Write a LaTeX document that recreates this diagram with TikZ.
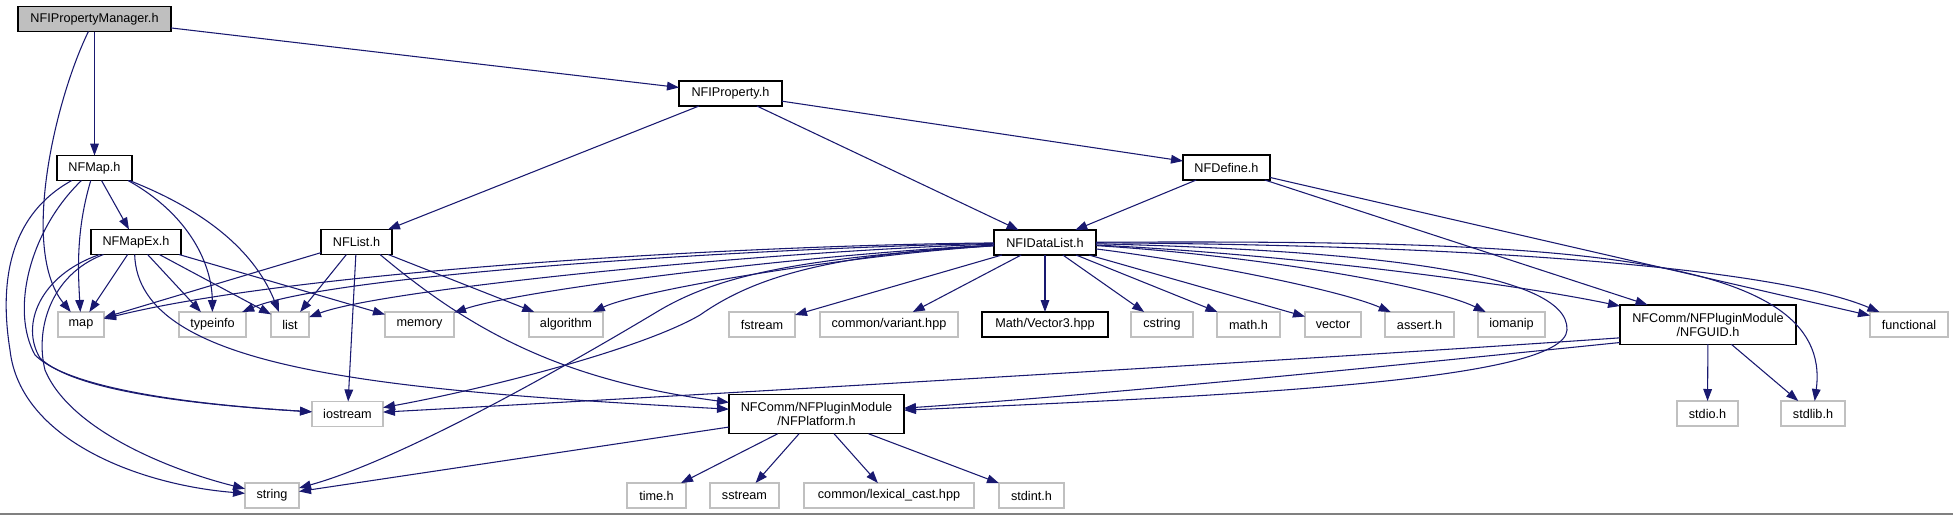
\documentclass[tikz,border=0pt]{standalone}
\usepackage{fontspec}
\newfontfamily\nf{Liberation Sans}
\usetikzlibrary{arrows.meta,calc}
\definecolor{edgec}{HTML}{191970}
\definecolor{lgc}{HTML}{C0C0C0}
\definecolor{pmfill}{HTML}{BFBFBF}
\begin{document}
\begin{tikzpicture}[x=0.75pt,y=-0.75pt,
 dep/.style={draw=edgec,line width=0.8pt,-{Triangle[length=9pt,width=6.5pt]}},
 nb/.style={inner sep=0pt,outer sep=0pt,minimum height=18.75pt,font=\nf\fontsize{9.5}{10.5}\selectfont,align=center,fill=white},
 docn/.style={nb,draw=black,line width=1.1pt},
 extn/.style={nb,draw=lgc,line width=1.1pt},
 two/.style={minimum height=29.6pt}]
\useasboundingbox (0,0) rectangle (1953,515);
\fill[white] (0,0) rectangle (1953,515);
\draw[gray,line width=1.5pt] (0,514) -- (1953,514);

\node[docn,fill=pmfill,minimum width=114.75pt] (pm) at (94.5,19) {NFIPropertyManager.h};
\node[docn,minimum width=77.25pt] (prop) at (730.5,93.5) {NFIProperty.h};
\node[docn,minimum width=56.25pt] (nfmap) at (94.5,168) {NFMap.h};
\node[docn,minimum width=65.25pt] (define) at (1226.5,167.5) {NFDefine.h};
\node[docn,minimum width=67.5pt] (mapex) at (136,242) {NFMapEx.h};
\node[docn,minimum width=53.25pt] (nflist) at (356.5,242) {NFList.h};
\node[docn,minimum width=76.5pt] (datalist) at (1045,242.5) {NFIDataList.h};
\node[extn,minimum width=34.5pt] (map) at (81,324.5) {map};
\node[extn,minimum width=50.25pt] (typeinfo) at (212.5,324.5) {typeinfo};
\node[extn,minimum width=28.5pt] (list) at (290,324.5) {list};
\node[extn,minimum width=51.75pt] (memory) at (419.5,324.5) {memory};
\node[extn,minimum width=55.5pt] (algorithm) at (566,324.5) {algorithm};
\node[extn,minimum width=49.5pt] (fstream) at (762,324.5) {fstream};
\node[extn,minimum width=103.5pt] (variant) at (889,324.5) {common/variant.hpp};
\node[docn,minimum width=94.5pt] (vector3) at (1045,324.5) {Math/Vector3.hpp};
\node[extn,minimum width=46.5pt] (cstring) at (1162,324.5) {cstring};
\node[extn,minimum width=47.25pt] (mathh) at (1248.5,324.5) {math.h};
\node[extn,minimum width=42pt] (vector) at (1333,324.5) {vector};
\node[extn,minimum width=51.75pt] (assert) at (1419.5,324.5) {assert.h};
\node[extn,minimum width=50.25pt] (iomanip) at (1511.5,324.5) {iomanip};
\node[docn,two,minimum width=132pt] (guid) at (1708,324.5) {NFComm/NFPluginModule\\/NFGUID.h};
\node[extn,minimum width=58.5pt] (functional) at (1909,324.5) {functional};
\node[extn,minimum width=53.25pt] (iostream) at (347.5,414) {iostream};
\node[docn,two,minimum width=131.25pt] (platform) at (816.5,414) {NFComm/NFPluginModule\\/NFPlatform.h};
\node[extn,minimum width=45.75pt] (stdio) at (1707.5,413.5) {stdio.h};
\node[extn,minimum width=48pt] (stdlib) at (1813,413.5) {stdlib.h};
\node[extn,minimum width=40.5pt] (string) at (272,495.5) {string};
\node[extn,minimum width=44.25pt] (timeh) at (656.5,495.5) {time.h};
\node[extn,minimum width=51.75pt] (sstream) at (744.5,495.5) {sstream};
\node[extn,minimum width=127.5pt] (lexical) at (889,495.5) {common/lexical\_cast.hpp};
\node[extn,minimum width=48.75pt] (stdint) at (1031.5,495.5) {stdint.h};

% NFIPropertyManager.h
\draw[dep] (pm) -- (nfmap);
\draw[dep] (pm) .. controls (55,100) and (20,250) .. (map);
\draw[dep] (pm) -- (prop);
% NFIProperty.h
\draw[dep] (prop) -- (nflist);
\draw[dep] (prop) -- (datalist);
\draw[dep] (prop) -- (define);
% NFDefine.h
\draw[dep] (define) -- (datalist);
\draw[dep] (define) -- (guid);
\draw[dep] (define) -- (functional);
% NFMap.h
\draw[dep] (nfmap) -- (mapex);
\draw[dep] (nfmap) .. controls (76,230) and (78,270) .. (map);
\draw[dep] ([xshift=-3pt]nfmap.south east) .. controls (190,215) and (212,265) .. (typeinfo);
\draw[dep] ([xshift=-2pt]nfmap.south east) .. controls (230,220) and (262,270) .. ([xshift=6pt]list.north west);
\draw[dep] (nfmap) .. controls (0,220) and (2,300) .. (10,350) .. controls (20,440) and (140,485) .. (string);
\draw[dep] (nfmap) .. controls (30,230) and (10,310) .. (35,355) .. controls (70,390) and (200,405) .. (iostream);
% NFMapEx.h
\draw[dep] (mapex) -- (map);
\draw[dep] (mapex) -- (typeinfo);
\draw[dep] (mapex) -- (list);
\draw[dep] (mapex) -- (memory);
\draw[dep] (mapex) .. controls (40,275) and (20,325) .. (40,358) .. controls (75,392) and (200,405) .. (iostream);
\draw[dep] (mapex) .. controls (50,275) and (35,330) .. (45,370) .. controls (70,430) and (170,470) .. (string);
\draw[dep] ([xshift=-1pt]mapex.south) .. controls (138,370) and (380,390) .. (platform);
% NFList.h
\draw[dep] (nflist) -- (map);
\draw[dep] (nflist) -- (list);
\draw[dep] (nflist) -- (iostream);
\draw[dep] (nflist) -- (algorithm);
\draw[dep] ([xshift=-9pt]nflist.south east) .. controls (470,330) and (560,380) .. (platform);
% NFIDataList.h
\draw[dep] (datalist) .. controls (750,245) and (300,270) .. (map);
\draw[dep] (datalist) .. controls (750,248) and (330,275) .. (typeinfo);
\draw[dep] (datalist) .. controls (750,252) and (380,290) .. (list);
\draw[dep] (datalist) .. controls (800,255) and (520,290) .. (memory);
\draw[dep] (datalist) .. controls (850,255) and (640,290) .. (algorithm);
\draw[dep] (datalist) .. controls (820,255) and (750,280) .. (700,315) .. controls (640,350) and (480,390) .. (iostream);
\draw[dep] (datalist) .. controls (800,258) and (720,275) .. (660,310) .. controls (560,370) and (400,460) .. (string);
\draw[dep] (datalist) -- (fstream);
\draw[dep] (datalist) -- (variant);
\draw[dep] (datalist) -- (vector3);
\draw[dep] (datalist) -- (cstring);
\draw[dep] (datalist) -- (mathh);
\draw[dep] (datalist) -- (vector);
\draw[dep] (datalist) .. controls (1200,262) and (1340,290) .. (assert);
\draw[dep] (datalist) .. controls (1250,255) and (1430,285) .. (iomanip);
\draw[dep] (datalist) .. controls (1300,255) and (1520,285) .. (guid);
\draw[dep] (datalist) .. controls (1350,250) and (1570,270) .. (1567,330) .. controls (1564,380) and (1250,395) .. (platform);
\draw[dep] (datalist) .. controls (1550,240) and (1835,250) .. (stdlib);
\draw[dep] (datalist) .. controls (1500,245) and (1780,270) .. (functional);
% NFGUID.h
\draw[dep] (guid) -- (stdio);
\draw[dep] (guid) -- (stdlib);
\draw[dep] ([yshift=-10pt]guid.west) .. controls (1300,360) and (700,395) .. (iostream);
\draw[dep] ([yshift=-13.5pt]guid.west) .. controls (1400,365) and (1100,395) .. (platform);
% NFPlatform.h
\draw[dep] (platform) -- (string);
\draw[dep] (platform) -- (timeh);
\draw[dep] (platform) -- (sstream);
\draw[dep] (platform) -- (lexical);
\draw[dep] (platform) -- (stdint);
\end{tikzpicture}
\end{document}
